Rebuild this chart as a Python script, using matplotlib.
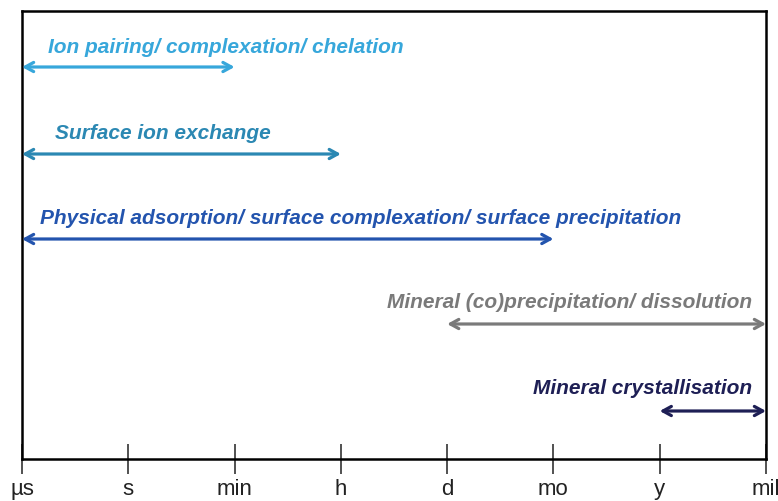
import matplotlib.pyplot as plt

# time scale labels along the bottom axis
tick_labels = ["µs", "s", "min", "h", "d", "mo", "y", "mil"]

# processes: label, start tick, end tick, colour
processes = ["Ion pairing/ complexation/ chelation",
             "Surface ion exchange",
             "Physical adsorption/ surface complexation/ surface precipitation",
             "Mineral (co)precipitation/ dissolution",
             "Mineral crystallisation"]
starts = [0, 0, 0, 4, 6]
ends = [2, 3, 5, 7, 7]
colors = ["#37A7DB", "#2B88B3", "#2354AE", "#7A7A7A", "#1E1F55"]

# layout (rows in pixel-like units, y axis inverted)
rows = [68, 155, 240, 325, 412]
text_rows = [47, 133, 218, 302, 389]
text_x = [0.245, 0.31, 0.17, 6.87, 6.87]
text_ha = ["left", "left", "left", "right", "right"]

fig = plt.figure(figsize=(7.78, 5.02), dpi=100)
ax = fig.add_axes([22 / 778, 1 - 460 / 502, (766 - 22) / 778, (460 - 12) / 502])
ax.set_xlim(0, len(tick_labels) - 1)
ax.set_ylim(460, 12)

for i, name in enumerate(processes):
    ax.annotate("", xy=(ends[i], rows[i]), xytext=(starts[i], rows[i]),
                arrowprops=dict(arrowstyle="<->,head_length=0.6,head_width=0.33",
                                color=colors[i], lw=2.3, shrinkA=0, shrinkB=0))
    ax.text(text_x[i], text_rows[i], name, color=colors[i], ha=text_ha[i], va="center",
            fontsize=15, fontweight="bold", fontstyle="italic",
            family=["Liberation Sans", "DejaVu Sans"])

for s in ax.spines.values():
    s.set_linewidth(1.8)
    s.set_color("black")

ax.set_yticks([])
ax.set_xticks(range(len(tick_labels)))
ax.set_xticklabels(tick_labels, family=["Liberation Sans", "DejaVu Sans"], fontsize=16)
ax.tick_params(axis="x", direction="inout", length=22, width=1.1, pad=3, colors="#222222")

fig.savefig("out.png", dpi=100)
